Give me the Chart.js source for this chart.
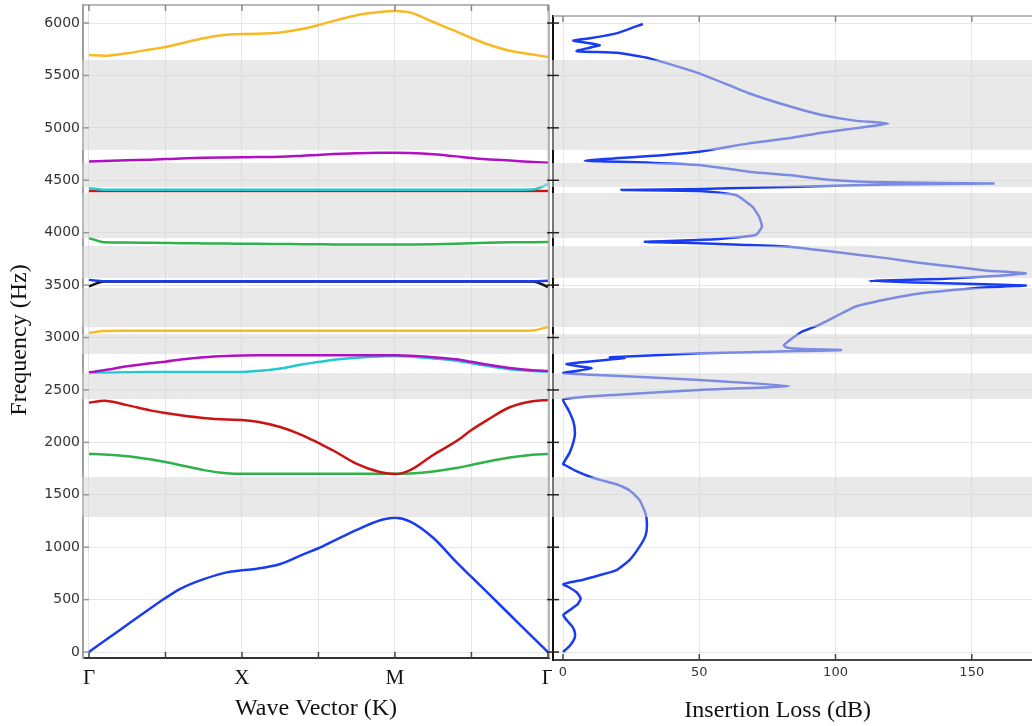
<!DOCTYPE html>
<html lang="en">
<head>
<meta charset="UTF-8">
<script src="https://cdn.jsdelivr.net/npm/chart.js@4.4.0/dist/chart.umd.min.js"></script>
<title>Band structure and insertion loss</title>
<style>
  body { margin: 0; background: #fff; }
  #wrap { position: relative; width: 1032px; height: 726px; overflow: hidden; }
  canvas { position: absolute; top: 0; }
  #left { left: 0; }
  #right { left: 545px; }
</style>
</head>
<body>
<div id="wrap">
  <canvas id="left" width="552" height="726"></canvas>
  <canvas id="right" width="487" height="726"></canvas>
</div>

<script>
// wave vector path (Γ = 0, X = 1, M = 2, Γ = 3)
const kPath = [0, 0.1, 0.25, 0.4, 0.5, 0.6, 0.75, 0.9, 1, 1.1, 1.25, 1.4, 1.5, 1.6, 1.75, 1.9, 2, 2.1, 2.25, 2.4, 2.5, 2.6, 2.75, 2.9, 3];
const kTicks = [0, 0.5, 1, 1.5, 2, 2.5, 3];
const kLabels = ['Γ', '', 'X', '', 'M', '', 'Γ'];
const freqTicks = [0, 500, 1000, 1500, 2000, 2500, 3000, 3500, 4000, 4500, 5000, 5500, 6000];
const lossTicks = [0, 50, 100, 150];

// dispersion branches, Hz, one value per kPath point
const band1 = [0, 105, 260, 415, 515, 605, 695, 760, 780, 795, 840, 932, 990, 1060, 1165, 1255, 1280, 1245, 1090, 860, 716, 573, 358, 143, 0];
const band2 = [1890, 1885, 1868, 1838, 1812, 1782, 1735, 1705, 1700, 1700, 1700, 1700, 1700, 1700, 1700, 1700, 1700, 1703, 1722, 1755, 1784, 1815, 1855, 1882, 1890];
const band3 = [2378, 2398, 2355, 2305, 2280, 2258, 2232, 2217, 2213, 2196, 2146, 2065, 1994, 1920, 1795, 1718, 1698, 1736, 1880, 2010, 2118, 2210, 2335, 2392, 2405];
const band4 = [2662, 2665, 2668, 2670, 2670, 2670, 2670, 2670, 2672, 2680, 2705, 2745, 2766, 2788, 2808, 2820, 2824, 2818, 2800, 2778, 2755, 2730, 2698, 2680, 2675];
const band5 = [2668, 2688, 2725, 2755, 2770, 2790, 2812, 2824, 2828, 2830, 2830, 2830, 2830, 2830, 2830, 2830, 2830, 2826, 2812, 2792, 2768, 2742, 2710, 2688, 2680];
const band6 = [3045, 3062, 3064, 3065, 3065, 3065, 3065, 3065, 3065, 3065, 3065, 3065, 3065, 3065, 3065, 3065, 3065, 3065, 3065, 3065, 3065, 3065, 3065, 3068, 3100];
const band7 = [3488, 3535, 3535, 3535, 3535, 3535, 3535, 3535, 3535, 3535, 3535, 3535, 3535, 3535, 3535, 3535, 3535, 3535, 3535, 3535, 3535, 3535, 3535, 3535, 3482];
const band8 = [3550, 3537, 3537, 3537, 3537, 3537, 3537, 3537, 3537, 3537, 3537, 3537, 3537, 3537, 3537, 3537, 3537, 3537, 3537, 3537, 3537, 3537, 3537, 3537, 3542];
const band9 = [3950, 3910, 3907, 3904, 3902, 3900, 3898, 3896, 3895, 3894, 3892, 3890, 3889, 3888, 3887, 3887, 3887, 3888, 3890, 3895, 3900, 3904, 3908, 3910, 3911];
const band10 = [4398, 4398, 4398, 4398, 4398, 4398, 4398, 4398, 4398, 4398, 4398, 4398, 4398, 4398, 4398, 4398, 4398, 4398, 4398, 4398, 4398, 4398, 4398, 4398, 4398];
const band11 = [4425, 4410, 4410, 4410, 4410, 4410, 4410, 4410, 4410, 4410, 4410, 4410, 4410, 4410, 4410, 4410, 4410, 4410, 4410, 4410, 4410, 4410, 4410, 4412, 4462];
const band12 = [4680, 4684, 4690, 4697, 4702, 4707, 4714, 4718, 4720, 4721, 4725, 4735, 4742, 4750, 4758, 4762, 4763, 4760, 4748, 4728, 4712, 4700, 4688, 4675, 4668];
const band13 = [5695, 5688, 5712, 5748, 5771, 5805, 5855, 5888, 5895, 5897, 5910, 5945, 5981, 6020, 6075, 6105, 6115, 6100, 6010, 5920, 5857, 5800, 5735, 5700, 5676];

// drawn in this order, first one on top
const bands = [band8, band7, band1, band3, band2, band5, band4, band6, band9, band11, band10, band12, band13];
const bandColors = ['#1a3cf0', '#111111', '#1a3cf0', '#cc1212', '#2db34a', '#b010c0', '#22c8d2', '#f7b924', '#2db34a', '#22c8d2', '#cc1212', '#b010c0', '#f7b924'];

// band gaps, Hz
const gapLow = [1288, 2413, 2843, 3100, 3568, 3949, 4436, 4789];
const gapHigh = [1669, 2661, 3033, 3472, 3873, 4379, 4665, 5647];

// insertion loss curve
const ilLoss = [0, 2.5, 4.2, 4.4, 3.5, 1.5, 0.1, 2.5, 5.5, 6.5, 5.0, 2.0, 0.1, 3.0, 7.4, 13, 19.6, 24.5, 28.1, 30.3,
  30.8, 30.3, 28.1, 24.5, 19.6, 14, 9.9, 4.5, 0.7, 0, 2.4, 3.8, 4.4, 3.8, 2.2, 0.1, 20, 50, 83, 50,
  15, 0.1, 10.5, 1.3, 22.6, 17.2, 50, 86.5, 102, 88, 82, 81, 82.5, 84.5, 87.7, 93.8, 100, 107.2, 118, 131.4,
  150, 163, 169.8, 140, 112.4, 140, 160, 169.8, 155, 143.7, 130, 119.3, 100, 82.8, 65, 50, 30, 56, 70.7, 73,
  72, 69.5, 63.4, 50, 21.4, 50, 86.5, 119.3, 158, 119, 98.6, 82.8, 68, 50, 31.8, 8, 31.8, 50, 68.2, 82.8,
  95, 107, 119.3, 107, 95, 82.8, 68.2, 50, 31.8, 19.6, 5.0, 13.5, 3.8, 9.9, 19.6, 29.3];
const ilFreq = [0, 60, 130, 180, 240, 300, 353, 400, 460, 512, 570, 620, 646, 668, 690, 730, 782, 880, 1005, 1110,
  1211, 1320, 1450, 1540, 1600, 1640, 1672, 1730, 1784, 1793, 1900, 2000, 2090, 2200, 2300, 2410, 2455, 2500, 2537, 2595,
  2640, 2661, 2706, 2747, 2804, 2811, 2849, 2871, 2881, 2890, 2905, 2925, 2960, 3000, 3056, 3119, 3200, 3294, 3360, 3422,
  3468, 3488, 3496, 3518, 3539, 3560, 3590, 3612, 3640, 3676, 3715, 3755, 3815, 3866, 3885, 3899, 3914, 3937, 3978, 4057,
  4150, 4248, 4359, 4398, 4407, 4417, 4439, 4460, 4470, 4480, 4503, 4550, 4582, 4646, 4668, 4687, 4731, 4773, 4852, 4900,
  4954, 4995, 5042, 5069, 5122, 5208, 5330, 5520, 5663, 5717, 5733, 5790, 5832, 5854, 5901, 5991];

const serif = '"Liberation Serif", "Times New Roman", serif';
const sans = '"DejaVu Sans", sans-serif';
const gridColor = '#e6e6e6';

// gray band-gap strips, drawn over the curves
const gapPlugin = {
  id: 'gaps',
  afterDatasetsDraw(chart) {
    const { ctx, chartArea: a, scales: { y } } = chart;
    ctx.save();
    ctx.fillStyle = 'rgba(213,213,213,0.52)';
    for (let i = 0; i < gapLow.length; i++) {
      const top = y.getPixelForValue(gapHigh[i]);
      const bot = y.getPixelForValue(gapLow[i]);
      ctx.fillRect(a.left - 1, top, a.right - a.left + 1, bot - top);
    }
    ctx.restore();
  }
};

// frame lines, inward tick marks and the titles placed by hand
const framePlugin = {
  id: 'frame',
  afterDraw(chart, args, o) {
    const { ctx, chartArea: a, scales: { x, y } } = chart;
    ctx.save();
    ctx.lineWidth = 1.5;
    ctx.strokeStyle = '#a0a0a0';
    ctx.beginPath();
    ctx.moveTo(a.left, a.top);
    ctx.lineTo(a.right, a.top);
    if (o.rightBorder) {
      ctx.moveTo(a.right, a.top);
      ctx.lineTo(a.right, a.bottom);
    }
    ctx.stroke();
    x.ticks.forEach(t => {
      const px = x.getPixelForValue(t.value);
      ctx.strokeStyle = '#444';
      ctx.beginPath();
      ctx.moveTo(px, a.bottom);
      ctx.lineTo(px, a.bottom - 6);
      ctx.stroke();
      ctx.strokeStyle = '#888';
      ctx.beginPath();
      ctx.moveTo(px, a.top);
      ctx.lineTo(px, a.top + 6);
      ctx.stroke();
    });
    ctx.strokeStyle = o.yTickColor;
    y.ticks.forEach(t => {
      const py = y.getPixelForValue(t.value);
      ctx.beginPath();
      ctx.moveTo(a.left - o.yTickOut, py);
      ctx.lineTo(a.left + 6, py);
      ctx.stroke();
    });
    ctx.fillStyle = '#111';
    ctx.font = '24px ' + serif;
    ctx.textAlign = 'center';
    ctx.textBaseline = 'alphabetic';
    if (o.xTitle) {
      ctx.fillText(o.xTitle, a.left + (a.right - a.left) * 0.469, 717);
    }
    if (o.yTitle) {
      ctx.translate(26, 340);
      ctx.rotate(-Math.PI / 2);
      ctx.fillText(o.yTitle, 0, 0);
    }
    ctx.restore();
  }
};

// no extra room for overhanging tick labels
const fixX = h => s => { s.height = h; s.paddingLeft = 0; s.paddingRight = 0; };
const fixY = w => s => { s.width = w; s.paddingTop = 0; s.paddingBottom = 0; };

const bandSets = bands.map((b, i) => ({
  data: kPath.map((k, j) => ({ x: k, y: b[j] })),
  borderColor: bandColors[i],
  borderWidth: 2.5,
  showLine: true,
  pointRadius: 0,
  cubicInterpolationMode: 'monotone'
}));

new Chart(document.getElementById('left'), {
  type: 'scatter',
  data: { datasets: bandSets },
  plugins: [gapPlugin, framePlugin],
  options: {
    responsive: false,
    animation: false,
    layout: { autoPadding: false, padding: { top: 5, right: 3, left: 0, bottom: 0 } },
    plugins: {
      legend: { display: false },
      tooltip: { enabled: false },
      frame: { rightBorder: true, yTickColor: '#999', yTickOut: 0, yTitle: 'Frequency (Hz)' }
    },
    scales: {
      x: {
        type: 'linear',
        min: -0.039,
        max: 3.007,
        afterBuildTicks: s => { s.ticks = kTicks.map(v => ({ value: v })); },
        afterFit: fixX(68),
        ticks: {
          callback: (v, i) => kLabels[i],
          font: { family: serif, size: 21 },
          color: '#111',
          padding: 8,
          maxRotation: 0,
          autoSkip: false
        },
        grid: { color: gridColor, drawTicks: false },
        border: { color: '#333', width: 2 },
        title: {
          display: true,
          text: 'Wave Vector (K)',
          font: { family: serif, size: 24 },
          color: '#111',
          padding: { top: 0, bottom: 3 }
        }
      },
      y: {
        type: 'linear',
        min: -57,
        max: 6172,
        afterBuildTicks: s => { s.ticks = freqTicks.map(v => ({ value: v })); },
        afterFit: fixY(83),
        ticks: { callback: v => String(v), font: { family: sans, size: 14 }, color: '#333', padding: 3 },
        grid: { color: gridColor, drawTicks: false },
        border: { color: '#a0a0a0', width: 2 }
      }
    }
  }
});

new Chart(document.getElementById('right'), {
  type: 'scatter',
  data: {
    datasets: [{
      data: ilLoss.map((v, i) => ({ x: v, y: ilFreq[i] })),
      borderColor: '#1a3cf0',
      borderWidth: 2.5,
      showLine: true,
      pointRadius: 0,
      tension: 0.15
    }]
  },
  plugins: [gapPlugin, framePlugin],
  options: {
    responsive: false,
    animation: false,
    layout: { autoPadding: false, padding: { top: 16, right: 0, left: 0, bottom: 0 } },
    plugins: {
      legend: { display: false },
      tooltip: { enabled: false },
      frame: { rightBorder: false, yTickColor: '#222', yTickOut: 6, xTitle: 'Insertion Loss (dB)' }
    },
    scales: {
      x: {
        type: 'linear',
        min: -3.67,
        max: 172.1,
        afterBuildTicks: s => { s.ticks = lossTicks.map(v => ({ value: v })); },
        afterFit: fixX(66),
        ticks: { callback: v => String(v), font: { family: sans, size: 13 }, color: '#333', padding: 5, maxRotation: 0 },
        grid: { color: gridColor, drawTicks: false },
        border: { color: '#444', width: 2 }
      },
      y: {
        type: 'linear',
        min: -76,
        max: 6067,
        afterBuildTicks: s => { s.ticks = freqTicks.map(v => ({ value: v })); },
        afterFit: fixY(8),
        ticks: { display: false },
        grid: { color: gridColor, drawTicks: false },
        border: { color: '#111', width: 2 }
      }
    }
  }
});
</script>
</body>
</html>
